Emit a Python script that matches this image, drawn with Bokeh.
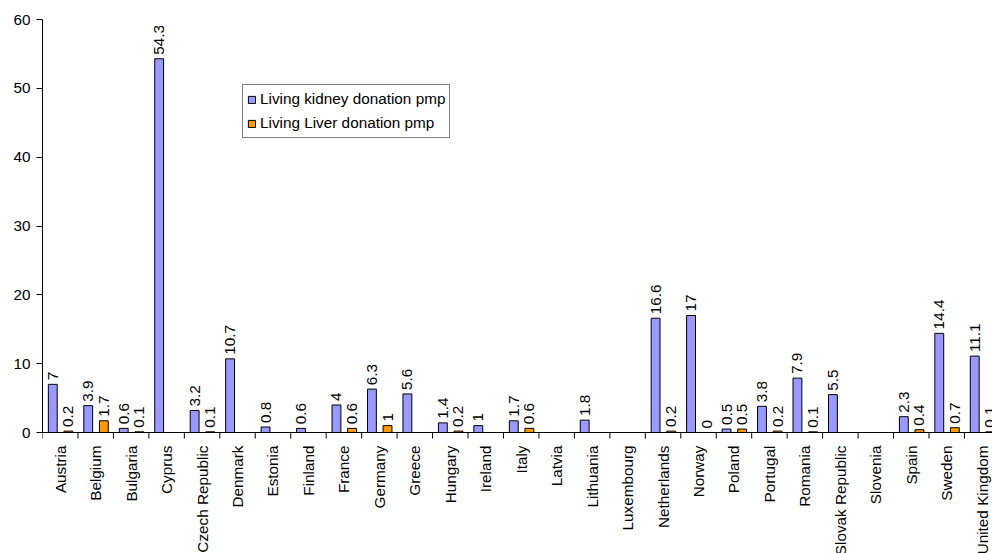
import math
from bokeh.plotting import figure
from bokeh.models import ColumnDataSource, Range1d, FixedTicker, LinearAxis, Span
from bokeh.core.properties import value
from bokeh.embed import file_html
from bokeh.resources import INLINE

countries = ["Austria", "Belgium", "Bulgaria", "Cyprus", "Czech Republic", "Denmark",
             "Estonia", "Finland", "France", "Germany", "Greece", "Hungary", "Ireland",
             "Italy", "Latvia", "Lithuania", "Luxembourg", "Netherlands", "Norway",
             "Poland", "Portugal", "Romania", "Slovak Republic", "Slovenia", "Spain",
             "Sweden", "United Kingdom"]
nan = float("nan")
kidney = [7, 3.9, 0.6, 54.3, 3.2, 10.7, 0.8, 0.6, 4, 6.3, 5.6, 1.4, 1, 1.7, nan, 1.8,
          nan, 16.6, 17, 0.5, 3.8, 7.9, 5.5, nan, 2.3, 14.4, 11.1]
liver = [0.2, 1.7, 0.1, nan, 0.1, nan, nan, nan, 0.6, 1, nan, 0.2, nan, 0.6, nan, nan,
         nan, 0.2, 0, 0.5, 0.2, 0.1, nan, nan, 0.4, 0.7, 0.1]
series_names = ["Living kidney donation pmp", "Living Liver donation pmp"]
y_ticks = [0, 10, 20, 30, 40, 50, 60]

FONT = "Liberation Sans"
FS = "15.3px"
K_OFF, L_OFF, BAR_W = -0.21, 0.23, 0.25

W, H = 992, 553
TOP, LEFT = 19, 42
AXIS_Y = 432          # pixel row of the category axis
CAT_PX = 35.46        # pixel width of one category
PX_PER_UNIT = (AXIS_Y - TOP) / 60.0
Y_MIN = -(H - AXIS_Y) / PX_PER_UNIT
TICK_LEN = 6 / PX_PER_UNIT


def fmt(v):
    return ("%g" % v)


def build(vals, off):
    xs, ys, lt = [], [], []
    for i, v in enumerate(vals):
        if not math.isnan(v):
            xs.append(i + off)
            ys.append(v)
            lt.append(fmt(v))
    return ColumnDataSource(dict(x=xs, top=ys)), ColumnDataSource(dict(x=xs, y=ys, t=lt))


p = figure(width=W, height=H, output_backend="svg", toolbar_location=None,
           x_range=Range1d(-0.5, -0.5 + (W - LEFT) / CAT_PX), y_range=Range1d(Y_MIN, 60),
           min_border_left=LEFT, min_border_right=0, min_border_top=TOP, min_border_bottom=0,
           x_axis_type=None, y_axis_type=None)
p.outline_line_color = None
p.background_fill_color = "white"
p.border_fill_color = "white"

ks, kl = build(kidney, K_OFF)
ls, ll = build(liver, L_OFF)
p.vbar(x="x", top="top", bottom=0, width=BAR_W, source=ks, fill_color="#9999FF",
       line_color="black", line_width=1, legend_label=series_names[0])
p.vbar(x="x", top="top", bottom=0, width=BAR_W, source=ls, fill_color="#FF9900",
       line_color="black", line_width=1, legend_label=series_names[1])

for src in (kl, ll):
    p.text(x="x", y="y", text="t", source=src, angle=math.pi / 2, y_offset=-4,
           text_align="left", text_baseline="middle", text_font=value(FONT),
           text_font_size=FS, text_color="black")

# y axis (only from 0 to 60)
ya = LinearAxis(ticker=FixedTicker(ticks=y_ticks, minor_ticks=[]), bounds=(0, 60))
ya.axis_line_color = "black"
ya.major_tick_in = 0
ya.major_tick_out = 6
ya.major_tick_line_color = "black"
ya.minor_tick_line_color = None
ya.major_label_standoff = 6
ya.major_label_text_font = FONT
ya.major_label_text_font_size = FS
ya.major_label_text_color = "black"
p.add_layout(ya, "left")

# category axis at y = 0: line, tick marks between categories, rotated names
p.add_layout(Span(location=0, dimension="width", line_color="black", line_width=1))
n = len(countries)
bx = [i - 0.5 for i in range(n + 1)]
p.segment(x0=bx, y0=[0] * len(bx), x1=bx, y1=[-TICK_LEN] * len(bx),
          line_color="black", line_width=1)
cat_src = ColumnDataSource(dict(x=list(range(n)), y=[0] * n, name=countries))
p.text(x="x", y="y", text="name", source=cat_src, angle=math.pi / 2, y_offset=13,
       text_align="right", text_baseline="middle", text_font=value(FONT),
       text_font_size=FS, text_color="black")

lg = p.legend[0]
lg.location = (200, 415)
lg.border_line_color = "black"
lg.border_line_width = 1
lg.background_fill_color = "white"
lg.background_fill_alpha = 1
lg.padding = 4
lg.spacing = 4
lg.margin = 0
lg.label_height = 20
lg.glyph_width = 9
lg.glyph_height = 9
lg.label_standoff = 4
lg.label_text_font = FONT
lg.label_text_font_size = FS
lg.label_text_color = "black"

open("out.html", "w").write(file_html(p, INLINE))
